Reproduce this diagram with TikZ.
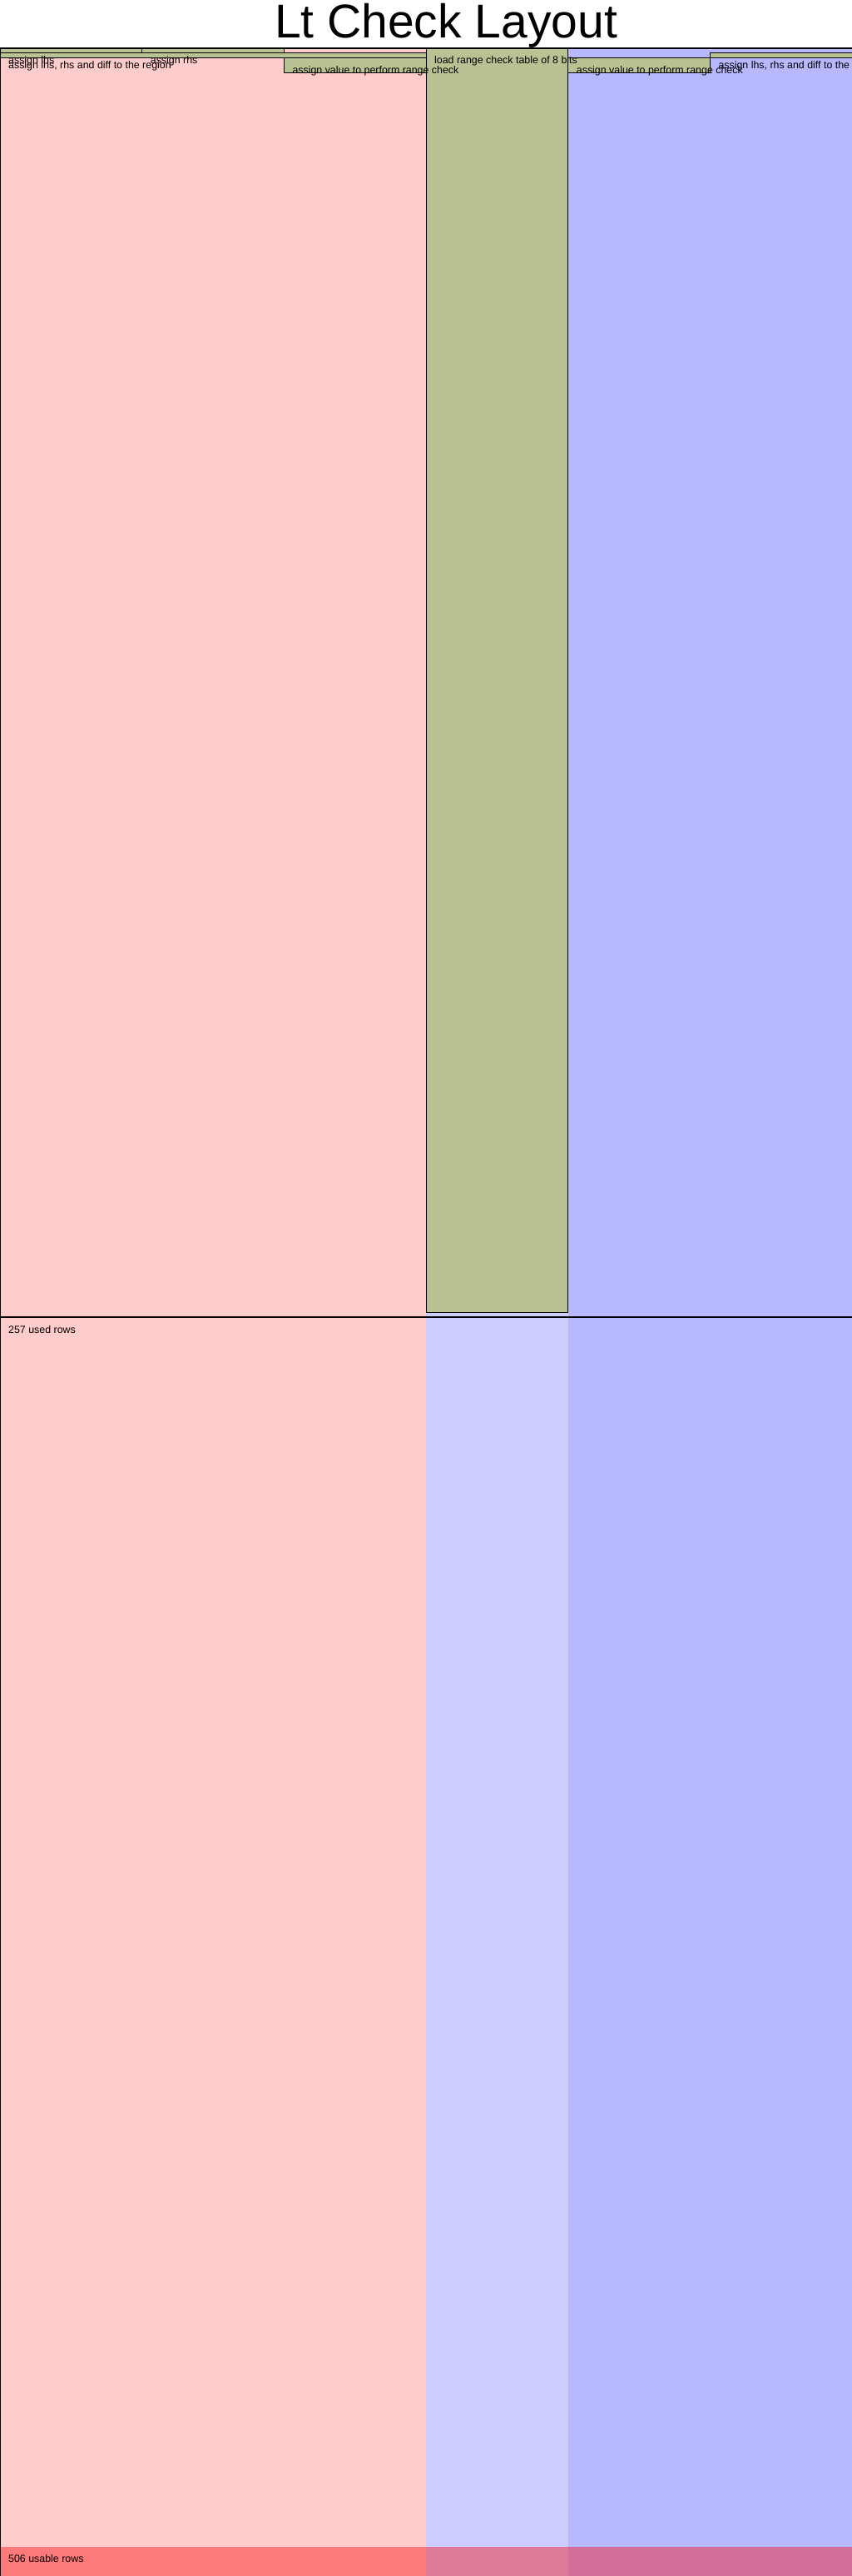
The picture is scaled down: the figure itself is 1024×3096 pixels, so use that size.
\documentclass[tikz,border=0pt]{standalone}
\usepackage{fontspec}
\setmainfont{Liberation Sans}
\begin{document}
\begin{tikzpicture}[x=1pt,y=-1pt,
  lbl/.style={anchor=base west,inner sep=0pt,font=\fontsize{12.4}{14}\selectfont},
  regbox/.style={draw=black,line width=1pt,fill=regiongreen}]
\definecolor{advpink}{HTML}{FFCCCC}
\definecolor{tabblue}{HTML}{CCCCFF}
\definecolor{fixblue}{HTML}{B8B8FF}
\definecolor{regiongreen}{HTML}{B9C293}
\useasboundingbox (0,0) rectangle (1024,3096);
\fill[white] (0,0) rectangle (1024,3096);
% columns
\fill[advpink] (0,58) rectangle (512,3096);
\fill[tabblue] (512,58) rectangle (682.7,3096);
\fill[fixblue] (682.7,58) rectangle (1024,3096);
% unusable rows
\fill[red,opacity=0.4] (0,3060.6) rectangle (1024,3096);
% table region
\draw[regbox] (512,58) rectangle (682.7,1577.1);
% regions row 0
\draw[regbox] (0,58) rectangle (170.7,63.93);
\draw[regbox] (170.7,58) rectangle (341.3,63.93);
% region row 1 left
\draw[regbox] (0,63.93) rectangle (512,69.87);
% range check regions
\draw[regbox] (341.3,69.87) rectangle (512,87.67);
\draw[regbox] (682.7,69.87) rectangle (853.3,87.67);
% region row 1 right
\draw[regbox] (853.3,63.93) rectangle (1030,69.87);
% borders
\draw[line width=1.2pt] (0,58) -- (1024,58);
\draw[line width=1.5pt] (0.5,58) -- (0.5,3096);
\draw[line width=1.2pt] (0,1583) -- (1024,1583);
% labels
\node[lbl] (t1) at (10,77) {assign lhs};
\node[lbl] (t2) at (180.7,77) {assign rhs};
\node[lbl] (t3) at (10,82.9) {assign lhs, rhs and diff to the region};
\node[lbl] (t4) at (351.3,88.9) {assign value to perform range check};
\node[lbl] (t5) at (522,77) {load range check table of 8 bits};
\node[lbl] (t6) at (692.7,88.9) {assign value to perform range check};
\begin{scope}
\clip (0,0) rectangle (1024,3096);
\node[lbl] (t7) at (863.3,82.9) {assign lhs, rhs and diff to the region};
\end{scope}
\node[lbl] (used) at (10,1602) {257 used rows};
\node[lbl] (usable) at (10,3079) {506 usable rows};
\node[anchor=base,inner sep=0pt,font=\fontsize{57}{60}\selectfont] (title) at (536,46) {Lt Check Layout};
\end{tikzpicture}
\end{document}
